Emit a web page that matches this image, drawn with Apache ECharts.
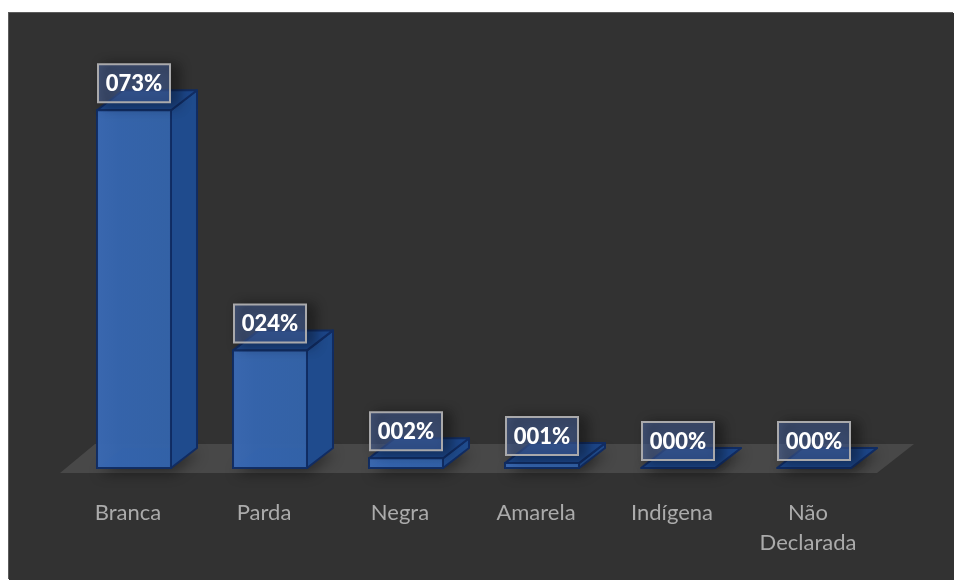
<!DOCTYPE html>
<html>
<head>
<meta charset="utf-8">
<script src="https://cdn.jsdelivr.net/npm/echarts@6/dist/echarts.min.js"></script>
<style>
  html, body { margin: 0; padding: 0; background: #ffffff; }
  #chart { position: absolute; left: 9px; top: 13px; width: 945px; height: 567px;
           box-shadow: -1px -1px 0 #5c5c5c; }
</style>
</head>
<body>
<div id="chart"></div>
<script>
const categories = ['Branca', 'Parda', 'Negra', 'Amarela', 'Indígena', 'Não\nDeclarada'];
const percentages = [73, 24, 2, 1, 0, 0];
const tickLabels = ['073%', '024%', '002%', '001%', '000%', '000%'];

// Oblique offset of the box depth and of the floor
const DEPTH_X = 26, DEPTH_Y = -20;
const BAR_RATIO = 0.544;
const LABEL_W = 72, LABEL_H = 38, LABEL_GAP = 27;
const OUTLINE = '#112c62';

const chart = echarts.init(document.getElementById('chart'), null, { renderer: 'canvas' });

function poly(points, fill, z2, extra) {
  return {
    type: 'polygon', z2: z2, silent: true,
    shape: { points: points },
    style: Object.assign({ fill: fill, stroke: OUTLINE, lineWidth: 2, lineJoin: 'round' }, extra || {})
  };
}

// Flat grey floor under the bars, derived from the plot rectangle
function renderFloor(params, api) {
  const c = params.coordSys;
  const base = c.y + c.height;
  return poly([
    [c.x - 6, base + 5],
    [c.x + c.width - 5, base + 5],
    [c.x + c.width + 32, base - 24],
    [c.x + 29, base - 24]
  ], '#484848', 1, { stroke: null, lineWidth: 0 });
}

// Oblique box: footprint shadow, side, top, front and a boxed value label
function renderBox(params, api) {
  const i = api.value(0);
  const top = api.coord([i, api.value(1)]);
  const bottom = api.coord([i, 0]);
  const w = api.size([1, 0])[0] * BAR_RATIO;
  const l = top[0] - w / 2, r = top[0] + w / 2;
  const yT = top[1], yB = bottom[1];
  const dx = DEPTH_X, dy = DEPTH_Y;

  const frontFill = new echarts.graphic.LinearGradient(0, 0, 1, 0, [
    { offset: 0, color: '#3a69b3' },
    { offset: 0.3, color: '#3565ae' },
    { offset: 1, color: '#3363a9' }
  ]);
  const cx = l + w / 2;
  const cy = yT - LABEL_GAP;

  return {
    type: 'group',
    children: [
      poly([[l, yB], [r, yB], [r + dx, yB + dy], [l + dx, yB + dy]], '#14336e', 2, {
        stroke: null, lineWidth: 0,
        shadowBlur: 14, shadowColor: 'rgba(0,0,0,0.45)', shadowOffsetX: 2, shadowOffsetY: 5
      }),
      poly([[r, yB], [r + dx, yB + dy], [r + dx, yT + dy], [r, yT]], '#1f4b8d', 3),
      poly([[l, yT], [r, yT], [r + dx, yT + dy], [l + dx, yT + dy]], '#1c4689', 4),
      {
        type: 'rect', z2: 5, silent: true,
        shape: { x: l, y: yT, width: w, height: yB - yT },
        style: { fill: frontFill, stroke: OUTLINE, lineWidth: 2, opacity: 0.97 }
      },
      {
        type: 'rect', z2: 6, silent: true,
        shape: { x: cx - LABEL_W / 2, y: cy - LABEL_H / 2, width: LABEL_W, height: LABEL_H },
        style: {
          fill: 'rgba(84,118,188,0.48)', stroke: '#a9a9ab', lineWidth: 2,
          shadowBlur: 12, shadowColor: 'rgba(0,0,0,0.7)', shadowOffsetX: 7, shadowOffsetY: 2
        }
      },
      {
        type: 'text', z2: 7, silent: true,
        x: cx, y: cy + 1,
        style: {
          text: tickLabels[i],
          fill: '#ffffff',
          font: '900 22px Lato, "Noto Sans", sans-serif',
          align: 'center', verticalAlign: 'middle'
        }
      }
    ]
  };
}

chart.setOption({
  animation: false,
  backgroundColor: '#323232',
  grid: { left: 57, top: 63, width: 816, height: 392 },
  xAxis: {
    type: 'category',
    data: categories,
    axisLine: { show: false },
    axisTick: { show: false },
    splitLine: { show: false },
    axisLabel: {
      margin: 30,
      padding: [0, 12, 0, 0],
      color: '#ababab',
      fontFamily: 'Lato, "Noto Sans", sans-serif',
      fontSize: 22,
      lineHeight: 30,
      interval: 0
    }
  },
  yAxis: { type: 'value', min: 0, max: 80, show: false, splitLine: { show: false } },
  series: [
    {
      type: 'custom', coordinateSystem: 'cartesian2d', z: 1, silent: true,
      renderItem: renderFloor, data: [[0, 0]], clip: false
    },
    {
      type: 'custom', coordinateSystem: 'cartesian2d', z: 2, silent: true,
      renderItem: renderBox,
      encode: { x: 0, y: 1 },
      data: percentages.map((v, i) => [i, v]),
      clip: false
    }
  ]
});
</script>
</body>
</html>
